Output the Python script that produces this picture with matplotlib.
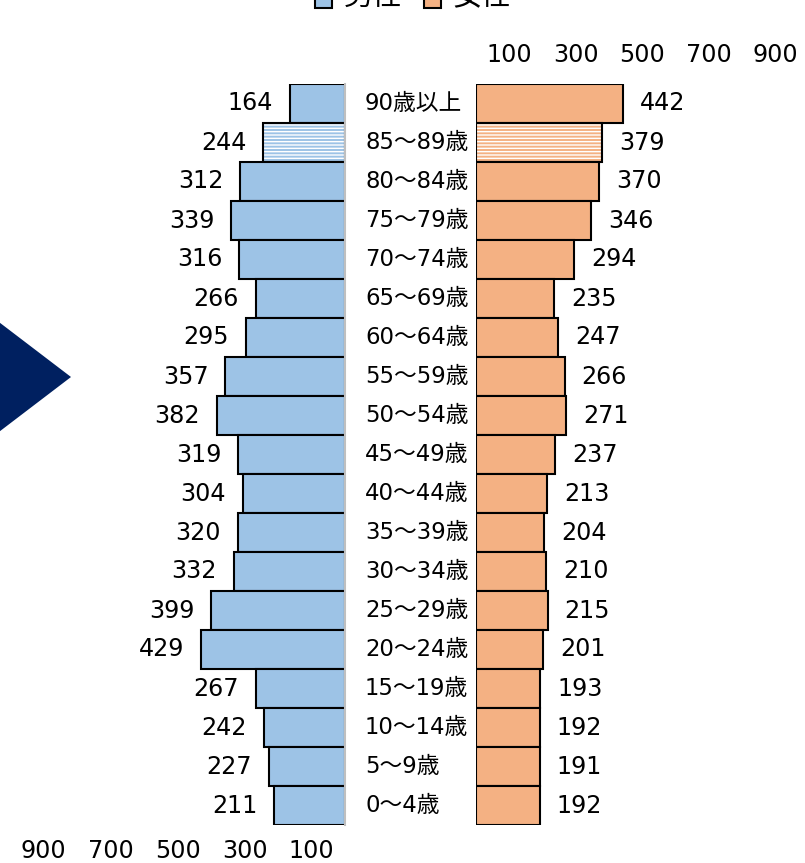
import matplotlib
matplotlib.use("Agg")
import matplotlib.pyplot as plt
from matplotlib.patches import Polygon, Rectangle
from matplotlib.transforms import blended_transform_factory

plt.rcParams['font.family'] = ['DejaVu Sans', 'Noto Sans CJK JP']
plt.rcParams['hatch.linewidth'] = 1.0

# 年齢階級(上から)
categories = ["90歳以上", "85～89歳", "80～84歳", "75～79歳", "70～74歳",
              "65～69歳", "60～64歳", "55～59歳", "50～54歳", "45～49歳",
              "40～44歳", "35～39歳", "30～34歳", "25～29歳", "20～24歳",
              "15～19歳", "10～14歳", "5～9歳", "0～4歳"]
male = [164, 244, 312, 339, 316, 266, 295, 357, 382, 319,
        304, 320, 332, 399, 429, 267, 242, 227, 211]
female = [442, 379, 370, 346, 294, 235, 247, 266, 271, 237,
          213, 204, 210, 215, 201, 193, 192, 191, 192]
tick_values = [100, 300, 500, 700, 900]
hatched_group = "85～89歳"

male_color = "#9DC3E6"
female_color = "#F4B183"
navy = "#002060"
FS = 17.2
FS_CAT = 16.4

W, H = 805, 863
fig = plt.figure(figsize=(W / 100, H / 100), dpi=100)

ax_bottom = (H - 825) / H
ax_height = 741 / H
ax_m = fig.add_axes([10 / W, ax_bottom, 335 / W, ax_height])
ax_f = fig.add_axes([476 / W, ax_bottom, 328 / W, ax_height])

n = len(categories)
ypos = list(range(n))[::-1]  # top row first


def draw_side(ax, values, color):
    for y, v, cat in zip(ypos, values, categories):
        if cat == hatched_group:
            ax.barh(y, v, height=1.0, color=color, edgecolor="none", linewidth=0)
            ax.barh(y, v, height=1.0, facecolor="none", edgecolor="white",
                    linewidth=0, hatch="-----")
            ax.barh(y, v, height=1.0, facecolor="none", edgecolor="black",
                    linewidth=1.5)
        else:
            ax.barh(y, v, height=1.0, color=color, edgecolor="black", linewidth=1.5)


draw_side(ax_m, male, male_color)
draw_side(ax_f, female, female_color)

ax_m.set_xlim(1000, 0)
ax_f.set_xlim(0, 985)
for ax in (ax_m, ax_f):
    ax.set_ylim(-0.5, n - 0.5)
    ax.set_yticks([])
    for s in ax.spines.values():
        s.set_visible(False)
    ax.set_xticks(tick_values)
    ax.set_xticklabels([str(t) for t in tick_values])
    ax.tick_params(axis="x", length=0, labelsize=FS)

ax_m.spines["right"].set_visible(True)
ax_m.spines["right"].set_color("#BFBFBF")
ax_m.spines["right"].set_linewidth(1.5)
ax_m.spines["right"].set_zorder(5)
ax_m.tick_params(axis="x", pad=10)
ax_f.xaxis.tick_top()
ax_f.tick_params(axis="x", pad=12)

# value labels
for y, v in zip(ypos, male):
    ax_m.annotate(str(v), xy=(v, y), xytext=(-17, 0), textcoords="offset pixels",
                  ha="right", va="center", fontsize=FS)
for y, v in zip(ypos, female):
    ax_f.annotate(str(v), xy=(v, y), xytext=(17, 0), textcoords="offset pixels",
                  ha="left", va="center", fontsize=FS)

# age group labels between the two halves
trans = blended_transform_factory(fig.transFigure, ax_f.transData)
for y, cat in zip(ypos, categories):
    ax_f.text(365 / W, y, cat, transform=trans, ha="left", va="center",
              fontsize=FS_CAT, clip_on=False)

# legend along the top edge
def px(x, y):
    return (x / W, 1 - y / H)

for x0, col, label in [(315, male_color, "男性"), (424, female_color, "女性")]:
    fig.patches.append(Rectangle(px(x0, 8), 17 / W, 17 / H, facecolor=col,
                                 edgecolor="black", linewidth=1.5,
                                 transform=fig.transFigure))
    fig.text((x0 + 29) / W, 1 - (-3) / H, label, ha="left", va="center",
             fontsize=21)

# navy arrow on the left
fig.patches.append(Polygon([px(-30, 300), px(71, 377), px(-30, 454)],
                           closed=True, facecolor=navy, edgecolor="none",
                           transform=fig.transFigure))

fig.savefig("out.png", dpi=100)
